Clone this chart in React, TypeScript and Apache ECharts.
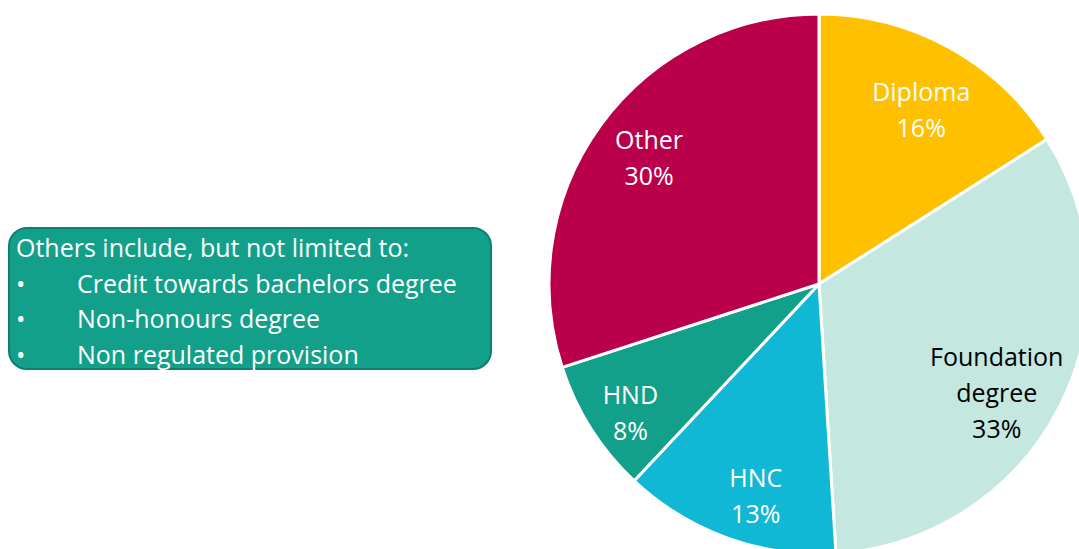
import React, { useEffect, useRef } from "react";
import * as echarts from "echarts";

const categories = ["Diploma", "Foundation degree", "HNC", "HND", "Other"];
const shares = [16, 33, 13, 8, 30];
const sliceColors = ["#FFC000", "#C4E7E0", "#10B8D5", "#13A08A", "#BB004B"];
const labelColors = ["#ffffff", "#000000", "#ffffff", "#ffffff", "#ffffff"];
const noteTitle = "Others include, but not limited to:";
const noteItems = ["Credit towards bachelors degree", "Non-honours degree", "Non regulated provision"];

const FONT = "'Open Sans', 'Noto Sans', sans-serif";

export default function App() {
  const ref = useRef<HTMLDivElement>(null);
  useEffect(() => {
    if (!ref.current) return;
    const chart = echarts.init(ref.current, null, { renderer: "svg" });
    const cx = 819;
    const cy = 284;
    const R = 270;
    const labelNudge: number[][] = [[-2, 15], [-15, 10], [10, 7], [-6, 12], [5, 0]];
    const data = categories.map((name, i) => ({
      name,
      value: shares[i],
      itemStyle: { color: sliceColors[i] },
    }));
    const labelData = categories.map((name, i) => ({
      name,
      value: shares[i],
      itemStyle: { color: "rgba(0,0,0,0)" },
      label: { color: labelColors[i], offset: labelNudge[i] },
    }));
    const lineTexts: any[] = [
      {
        type: "text",
        x: 16,
        y: 247,
        style: { text: noteTitle, fill: "#fff", font: `25px ${FONT}`, verticalAlign: "middle" },
      },
    ];
    noteItems.forEach((t, i) => {
      const y = 283 + i * 35.3;
      lineTexts.push({
        type: "text",
        x: 16,
        y,
        style: { text: "\u2022", fill: "#fff", font: `25px ${FONT}`, verticalAlign: "middle" },
      });
      lineTexts.push({
        type: "text",
        x: 77,
        y,
        style: { text: t, fill: "#fff", font: `25px ${FONT}`, verticalAlign: "middle" },
      });
    });
    chart.setOption({
      animation: false,
      backgroundColor: "#ffffff",
      series: [
        {
          type: "pie",
          center: [cx, cy],
          radius: [0, R],
          startAngle: 90,
          clockwise: true,
          silent: true,
          label: { show: false },
          labelLine: { show: false },
          itemStyle: { borderColor: "#ffffff", borderWidth: 3 },
          data,
        },
        {
          type: "pie",
          center: [cx, cy],
          radius: [R * 0.58, R],
          startAngle: 90,
          clockwise: true,
          silent: true,
          labelLine: { show: false },
          label: {
            show: true,
            position: "inside",
            fontFamily: FONT,
            fontSize: 25,
            lineHeight: 36,
            align: "center",
            formatter: (p: any) => `${p.name.replace(" ", "\n")}\n${p.value}%`,
          },
          data: labelData,
        },
      ],
      graphic: [
        {
          type: "group",
          children: [
            {
              type: "rect",
              shape: { x: 9, y: 228, width: 482, height: 141, r: 18 },
              style: { fill: "#13A08A", stroke: "#0E7F6D", lineWidth: 2 },
            },
            ...lineTexts,
          ],
        },
      ],
    });
    return () => chart.dispose();
  }, []);
  return (
    <div
      ref={ref}
      style={{ position: "fixed", left: 0, top: 0, width: 1079, height: 549, background: "#fff" }}
    />
  );
}
